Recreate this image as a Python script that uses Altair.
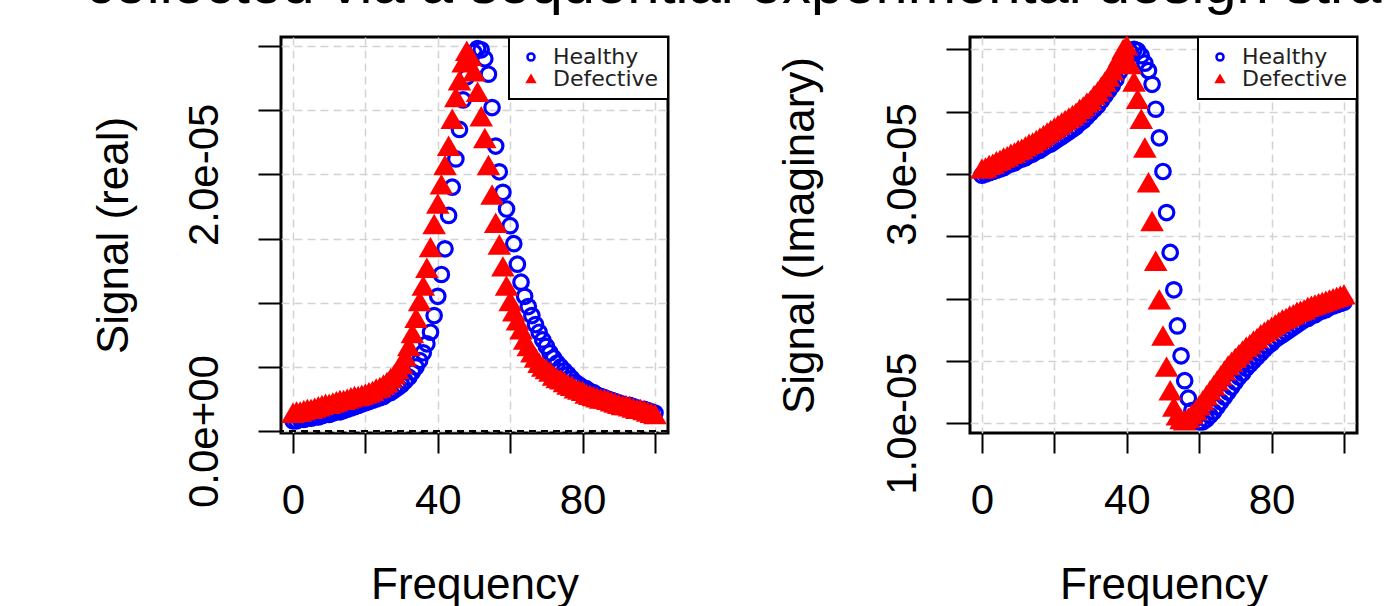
import altair as alt
import pandas as pd

# ---------------- data (signal values in units of 1e-5) ----------------
freq = list(range(101))

healthy_real = [
    0.08, 0.08, 0.09, 0.09, 0.10, 0.10, 0.11, 0.11, 0.12, 0.13,
    0.13, 0.14, 0.15, 0.15, 0.16, 0.17, 0.18, 0.19, 0.20, 0.21,
    0.22, 0.23, 0.24, 0.25, 0.26, 0.27, 0.29, 0.30, 0.32, 0.34,
    0.36, 0.39, 0.42, 0.46, 0.50, 0.55, 0.61, 0.68, 0.77, 0.90,
    1.05, 1.22, 1.42, 1.68, 1.90, 2.12, 2.35, 2.58, 2.76, 2.88,
    2.95, 2.98, 2.97, 2.90, 2.78, 2.52, 2.22, 2.02, 1.86, 1.73,
    1.60, 1.46, 1.30, 1.16, 1.05, 0.97, 0.90, 0.83, 0.77, 0.71,
    0.66, 0.61, 0.57, 0.53, 0.50, 0.47, 0.44, 0.41, 0.38, 0.36,
    0.34, 0.33, 0.31, 0.30, 0.28, 0.27, 0.26, 0.25, 0.24, 0.23,
    0.22, 0.21, 0.20, 0.20, 0.19, 0.18, 0.17, 0.17, 0.16, 0.15, 0.14,
]

defective_real = [
    0.14, 0.15, 0.15, 0.16, 0.17, 0.17, 0.18, 0.19, 0.20, 0.21,
    0.21, 0.22, 0.23, 0.24, 0.24, 0.25, 0.26, 0.27, 0.27, 0.28,
    0.29, 0.30, 0.31, 0.33, 0.34, 0.36, 0.38, 0.41, 0.44, 0.48,
    0.52, 0.58, 0.66, 0.76, 0.88, 1.01, 1.13, 1.27, 1.43, 1.61,
    1.77, 1.92, 2.07, 2.22, 2.43, 2.60, 2.73, 2.87, 2.96, 2.92,
    2.80, 2.64, 2.45, 2.28, 2.07, 1.84, 1.62, 1.45, 1.28, 1.13,
    1.01, 0.93, 0.86, 0.79, 0.71, 0.66, 0.61, 0.57, 0.53, 0.50,
    0.48, 0.46, 0.43, 0.41, 0.40, 0.38, 0.36, 0.35, 0.33, 0.32,
    0.31, 0.29, 0.28, 0.27, 0.26, 0.25, 0.25, 0.24, 0.23, 0.22,
    0.21, 0.20, 0.20, 0.19, 0.18, 0.17, 0.17, 0.16, 0.15, 0.14, 0.13,
]

healthy_imag = [
    2.99, 3.00, 3.01, 3.02, 3.03, 3.04, 3.05, 3.07, 3.08, 3.09,
    3.11, 3.12, 3.13, 3.15, 3.16, 3.18, 3.19, 3.21, 3.23, 3.24,
    3.26, 3.28, 3.30, 3.32, 3.34, 3.36, 3.38, 3.41, 3.43, 3.46,
    3.49, 3.52, 3.55, 3.59, 3.63, 3.67, 3.71, 3.76, 3.82, 3.88,
    3.94, 3.98, 4.00, 3.99, 3.95, 3.89, 3.83, 3.72, 3.52, 3.29,
    3.02, 2.69, 2.37, 2.07, 1.78, 1.54, 1.34, 1.20, 1.10, 1.04,
    1.01, 1.01, 1.03, 1.06, 1.09, 1.13, 1.17, 1.21, 1.25, 1.29,
    1.33, 1.37, 1.40, 1.44, 1.47, 1.50, 1.53, 1.56, 1.59, 1.62,
    1.64, 1.67, 1.69, 1.71, 1.73, 1.75, 1.77, 1.79, 1.81, 1.83,
    1.84, 1.86, 1.87, 1.89, 1.90, 1.91, 1.93, 1.94, 1.95, 1.96, 1.97,
]

defective_imag = [
    3.04, 3.05, 3.07, 3.08, 3.10, 3.11, 3.13, 3.14, 3.16, 3.17,
    3.19, 3.20, 3.22, 3.24, 3.25, 3.27, 3.29, 3.31, 3.33, 3.35,
    3.37, 3.39, 3.41, 3.43, 3.45, 3.47, 3.49, 3.52, 3.54, 3.57,
    3.59, 3.63, 3.66, 3.70, 3.74, 3.78, 3.83, 3.88, 3.94, 4.00,
    4.03, 3.88, 3.74, 3.60, 3.44, 3.21, 2.93, 2.62, 2.30, 1.99,
    1.70, 1.45, 1.26, 1.13, 1.06, 1.03, 1.02, 1.04, 1.07, 1.10,
    1.14, 1.18, 1.22, 1.26, 1.30, 1.34, 1.38, 1.42, 1.46, 1.49,
    1.52, 1.55, 1.58, 1.61, 1.63, 1.66, 1.68, 1.71, 1.73, 1.75,
    1.77, 1.79, 1.81, 1.83, 1.84, 1.86, 1.87, 1.89, 1.90, 1.91,
    1.93, 1.94, 1.95, 1.96, 1.97, 1.98, 1.99, 2.00, 2.01, 2.02, 2.03,
]

UNIT = 1e-5

series = ["Healthy", "Defective"]
series_strokes = ["#0000ff", "#ff0000"]
series_fills = ["transparent", "#ff0000"]
series_shapes = ["circle", "triangle-up"]

x_ticks = [0, 20, 40, 60, 80, 100]
x_tick_labels = {0: "0", 40: "40", 80: "80"}
real_ticks = [0.0, 0.5, 1.0, 1.5, 2.0, 2.5, 3.0]
real_tick_labels = {0.0: "0.0e+00", 2.0: "2.0e-05"}
imag_ticks = [1.0, 1.5, 2.0, 2.5, 3.0, 3.5, 4.0]
imag_tick_labels = {1.0: "1.0e-05", 3.0: "3.0e-05"}
zero_line = [0.0]
title_text = "collected via a sequential experimental design stra"

FONT = "Liberation Sans"
W, H = 387, 396


def label_expr(mapping, mult=1.0):
    parts = []
    for v, s in mapping.items():
        parts.append(f"abs(datum.value - ({v * mult!r})) < {abs(mult) * 1e-6!r} ? '{s}' : ")
    return "".join(parts) + "''"


def frame(values, name):
    return pd.DataFrame({
        "Frequency": freq,
        "Signal": [v * UNIT for v in values],
        "Series": name,
    })


def panel(h_vals, d_vals, ydom, yticks, ylabels, ytitle, tick_y, pad_y, title_x, with_zero):
    x_enc = alt.X(
        "Frequency:Q",
        scale=alt.Scale(domain=[-3.3, 103.6], nice=False, zero=False),
        axis=alt.Axis(
            values=x_ticks, labelExpr=label_expr(x_tick_labels), title="Frequency",
            tickSize=20, labelPadding=60, labelBaseline="alphabetic", labelAlign="center",
            titleX=W / 2, titleY=165, titleBaseline="alphabetic", titleAlign="center",
        ),
    )
    y_enc = alt.Y(
        "Signal:Q",
        scale=alt.Scale(domain=[ydom[0] * UNIT, ydom[1] * UNIT], nice=False, zero=False),
        axis=alt.Axis(
            values=[t * UNIT for t in yticks], labelExpr=label_expr(ylabels, UNIT), title=ytitle,
            tickSize=tick_y, labelPadding=pad_y, labelAngle=270, labelAlign="center",
            labelBaseline="alphabetic",
            titleX=title_x, titleY=H / 2, titleAngle=270, titleAlign="center",
            titleBaseline="alphabetic",
        ),
    )
    leg = alt.Legend(title=None)
    enc = dict(
        x=x_enc,
        y=y_enc,
        shape=alt.Shape("Series:N", scale=alt.Scale(domain=series, range=series_shapes), legend=leg),
        stroke=alt.Stroke("Series:N", scale=alt.Scale(domain=series, range=series_strokes), legend=leg),
        fill=alt.Fill("Series:N", scale=alt.Scale(domain=series, range=series_fills), legend=leg),
    )
    circles = alt.Chart(frame(h_vals, "Healthy")).mark_point(
        size=210, strokeWidth=3.2, opacity=1
    ).encode(**enc)
    tris = alt.Chart(frame(d_vals, "Defective")).mark_point(
        size=440, strokeWidth=1.5, opacity=1
    ).encode(**enc)
    layers = [circles, tris]
    if with_zero:
        zero = alt.Chart(pd.DataFrame({"Signal": zero_line})).mark_rule(
            color="black", strokeDash=[7, 5], strokeWidth=2
        ).encode(y=y_enc)
        layers.append(zero)
    return alt.layer(*layers).properties(width=W, height=H)


left = panel(healthy_real, defective_real, [-0.015, 3.07], real_ticks, real_tick_labels,
             "Signal (real)", 23, 41, -154, True)
right = panel(healthy_imag, defective_imag, [0.92, 4.10], imag_ticks, imag_tick_labels,
              "Signal (Imaginary)", 24, 31, -157, False)

chart = alt.hconcat(left, right, spacing=105).resolve_scale(
    shape="independent", stroke="independent", fill="independent"
).properties(
    title=alt.TitleParams(
        text=title_text, anchor="start", fontSize=58, font=FONT, fontWeight="normal",
        baseline="alphabetic", offset=-29, dx=-5, color="black",
    ),
    padding={"left": 85, "top": -43, "right": 0, "bottom": 0},
    background="white",
).configure_view(
    stroke="black", strokeWidth=3
).configure_axis(
    labelFont=FONT, titleFont=FONT, labelFontSize=42, titleFontSize=44,
    labelColor="black", titleColor="black", titleFontWeight="normal",
    tickColor="black", tickWidth=2, domain=False,
    grid=True, gridColor="#d3d3d3", gridDash=[8, 5], gridWidth=1.5,
    labelOverlap=False, labelFlush=False, labelBound=False,
).configure_legend(
    orient="top-right", offset=0, padding=9, strokeColor="black", strokeWidth=2,
    fillColor="white", labelFont="DejaVu Sans", labelFontSize=22, labelColor="#222",
    symbolSize=50, symbolStrokeWidth=2.5, rowPadding=-7, labelOffset=11, symbolOffset=2,
    cornerRadius=0,
)

chart.save("out.html", embed_options={"renderer": "svg", "actions": False})
